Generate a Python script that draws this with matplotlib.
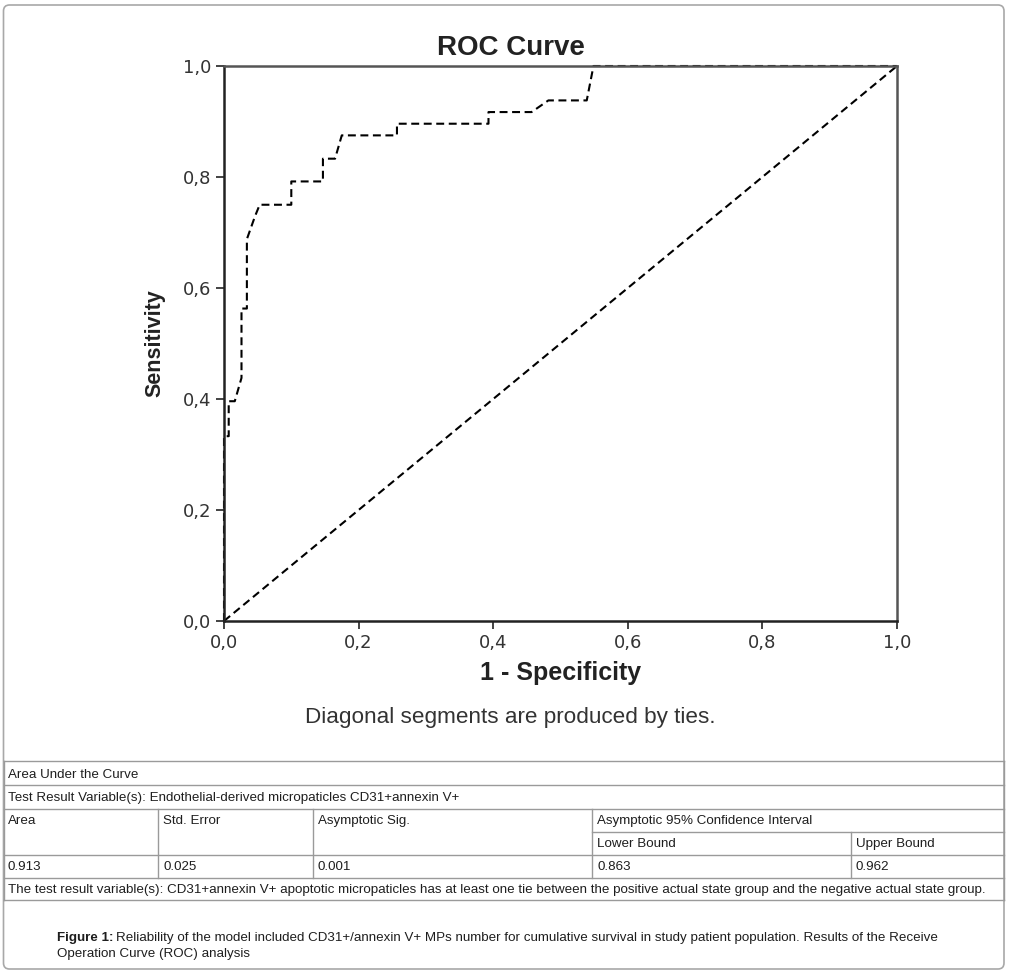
import matplotlib
matplotlib.use("Agg")
import matplotlib.pyplot as plt
from matplotlib.patches import FancyBboxPatch

# ROC curve
fpr = [0.0, 0.0, 0.007, 0.007, 0.016, 0.026, 0.026, 0.034, 0.034, 0.046, 0.053,
       0.100, 0.100, 0.147, 0.147, 0.165, 0.175, 0.257, 0.257, 0.393, 0.393,
       0.457, 0.482, 0.539, 0.549, 1.0]
tpr = [0.0, 0.333, 0.333, 0.396, 0.396, 0.438, 0.563, 0.563, 0.688, 0.729, 0.750,
       0.750, 0.792, 0.792, 0.833, 0.833, 0.875, 0.875, 0.896, 0.896, 0.917,
       0.917, 0.938, 0.938, 1.0, 1.0]
ref_line = [0.0, 1.0]
ticks = [0.0, 0.2, 0.4, 0.6, 0.8, 1.0]
tick_labels = ['0,0', '0,2', '0,4', '0,6', '0,8', '1,0']

# AUC table
table_title = 'Area Under the Curve'
test_var = 'Test Result Variable(s): Endothelial-derived micropaticles CD31+annexin V+'
col_heads = ['Area', 'Std. Error', 'Asymptotic Sig.', 'Asymptotic 95% Confidence Interval']
sub_heads = ['Lower Bound', 'Upper Bound']
values = ['0.913', '0.025', '0.001', '0.863', '0.962']
footnote = ('The test result variable(s): CD31+annexin V+ apoptotic micropaticles has at least '
            'one tie between the positive actual state group and the negative actual state group.')

W, H = 1009, 973
fig = plt.figure(figsize=(W / 100, H / 100), dpi=100)

# page layer in pixel coordinates
bg = fig.add_axes([0, 0, 1, 1], zorder=0)
bg.set_xlim(0, W)
bg.set_ylim(H, 0)
bg.axis('off')

grey = '#9a9a9a'
txt = '#1e1e1e'
bg.add_patch(FancyBboxPatch((3.5, 5), 1000.5, 964, boxstyle='round,pad=0,rounding_size=6',
                            fc='none', ec='#a8a8a8', lw=1.2))

rows = [760.5, 785, 808.5, 854.5, 877.5, 900]
for y in rows:
    bg.plot([3.5, 1004], [y, y], color=grey, lw=1)
bg.plot([592, 1004], [831.5, 831.5], color=grey, lw=1)
bg.plot([3.5, 3.5], [760.5, 900], color=grey, lw=1)
bg.plot([1004, 1004], [760.5, 900], color=grey, lw=1)
cols = [158, 313, 592]
for x in cols:
    bg.plot([x, x], [808.5, 877.5], color=grey, lw=1)
bg.plot([851, 851], [831.5, 877.5], color=grey, lw=1)

tfont = dict(family='Liberation Sans', size=9.6, color=txt, va='center', ha='left')
bg.text(8, 775, table_title, **tfont)
bg.text(8, 798, test_var, **tfont)
for x, s in zip([8, 163, 318, 597], col_heads):
    bg.text(x, 821, s, **tfont)
for x, s in zip([597, 856], sub_heads):
    bg.text(x, 844, s, **tfont)
for x, s in zip([8, 163, 318, 597, 856], values):
    bg.text(x, 867, s, **tfont)
bg.text(8, 890, footnote, **tfont)

cfont = dict(family='Liberation Sans', size=9.65, color=txt, va='center', ha='left')
t1 = bg.text(57, 938, 'Figure 1:', fontweight='bold', **cfont)
fig.canvas.draw()
bb = t1.get_window_extent()
x_after = bb.x1 + 3
bg.text(x_after, 938, 'Reliability of the model included CD31+/annexin V+ MPs number for cumulative '
        'survival in study patient population. Results of the Receive', **cfont)
bg.text(57, 954, 'Operation Curve (ROC) analysis', **cfont)

# ROC axes
ax = fig.add_axes([224 / W, 1 - 621 / H, 673 / W, 555 / H], zorder=1)
ax.patch.set_alpha(0)
ax.plot(fpr, tpr, color='black', lw=1.5, linestyle=(0, (3.8, 2.2)), clip_on=False)
ax.plot(ref_line, ref_line, color='black', lw=1.5, linestyle=(0, (3.8, 2.2)))
ax.set_xlim(0, 1)
ax.set_ylim(0, 1)
ax.set_xticks(ticks)
ax.set_yticks(ticks)
ax.set_xticklabels(tick_labels)
ax.set_yticklabels(tick_labels)
ax.tick_params(length=6, width=1.2, color='#222222', labelsize=13, labelcolor='#333333', pad=3)
for name, sp in ax.spines.items():
    sp.set_linewidth(1.8)
    sp.set_color('#222222' if name in ('left', 'bottom') else '#555555')

ax.set_xlabel('1 - Specificity', family='Liberation Sans', fontweight='bold', fontsize=18,
              color='#222222')
ax.xaxis.set_label_coords(0.5, -(673 - 621) / 555)
ax.xaxis.label.set_va('center')
ax.set_ylabel('Sensitivity', family='Liberation Sans', fontweight='bold', fontsize=15.5,
              color='#222222')
ax.yaxis.set_label_coords((155 - 224) / 673, (621 - 343) / 555)
ax.yaxis.label.set_va('center')

fig.text(511 / W, 1 - 55 / H, 'ROC Curve', family='Liberation Sans', fontweight='bold',
         fontsize=20, color='#222222', ha='center', va='baseline')
fig.text(510 / W, 1 - 718 / H, 'Diagonal segments are produced by ties.',
         family='Liberation Sans', fontsize=16.2, color='#333333', ha='center', va='center')

fig.savefig('out.png', dpi=100)
